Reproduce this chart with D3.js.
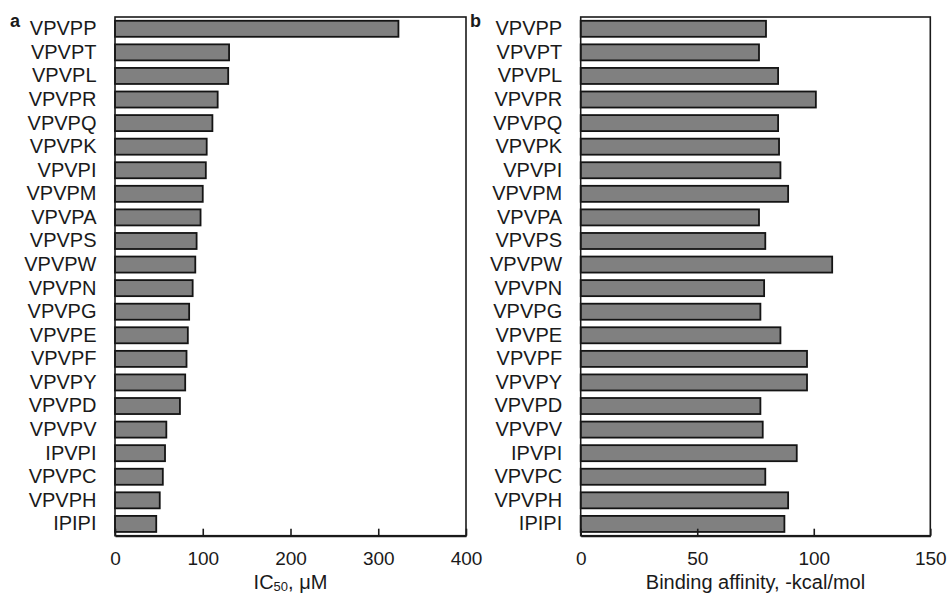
<!DOCTYPE html>
<html>
<head>
<meta charset="utf-8">
<script src="https://cdn.jsdelivr.net/npm/d3@7"></script>
<style>
  body { margin: 0; background: #fff; }
  svg { display: block; }
  text { font-family: "Liberation Sans", Arial, sans-serif; fill: #1a1a1a; }
</style>
</head>
<body>
<svg id="chart" width="947" height="594"></svg>
<script>
// ---- data ----
const peptidesA = ["VPVPP","VPVPT","VPVPL","VPVPR","VPVPQ","VPVPK","VPVPI","VPVPM","VPVPA","VPVPS","VPVPW","VPVPN","VPVPG","VPVPE","VPVPF","VPVPY","VPVPD","VPVPV","IPVPI","VPVPC","VPVPH","IPIPI"];
const ic50 = [323, 130, 129, 117, 111, 104.5, 103.5, 100, 97.5, 93, 91.5, 88.5, 84.5, 83, 81.5, 80, 74, 58.5, 57, 54.5, 51, 47];
const peptidesB = ["VPVPP","VPVPT","VPVPL","VPVPR","VPVPQ","VPVPK","VPVPI","VPVPM","VPVPA","VPVPS","VPVPW","VPVPN","VPVPG","VPVPE","VPVPF","VPVPY","VPVPD","VPVPV","IPVPI","VPVPC","VPVPH","IPIPI"];
const affinity = [79.5, 76.5, 84.7, 100.9, 84.7, 85.1, 85.7, 89, 76.5, 79.2, 107.9, 78.7, 77.1, 85.7, 97.1, 97.1, 77.1, 78.1, 92.7, 79.2, 89, 87.4];
const ticksA = [0, 100, 200, 300, 400];
const ticksB = [0, 50, 100, 150];

const svg = d3.select("#chart");
const plotTop = 17, plotBottom = 535.7;

function panel(cfg) {
  const g = svg.append("g");
  const x = d3.scaleLinear().domain(cfg.domain).range([cfg.left, cfg.right]);
  const y = d3.scaleBand().domain(cfg.cats).range([plotTop, plotBottom])
    .paddingInner(0.32).paddingOuter(0.16);

  // bars
  g.selectAll("rect.bar").data(cfg.values).join("rect")
    .attr("class", "bar")
    .attr("x", x(0))
    .attr("y", (d, i) => y(cfg.cats[i]))
    .attr("width", d => x(d) - x(0))
    .attr("height", y.bandwidth())
    .attr("fill", "#808080")
    .attr("stroke", "#141414")
    .attr("stroke-width", 1.8);

  // frame
  g.append("rect")
    .attr("x", cfg.left).attr("y", plotTop)
    .attr("width", cfg.right - cfg.left).attr("height", plotBottom - plotTop)
    .attr("fill", "none").attr("stroke", "#1a1a1a").attr("stroke-width", 1.6);

  // x axis
  const xa = g.append("g").attr("transform", `translate(0,${plotBottom})`)
    .call(d3.axisBottom(x).tickValues(cfg.ticks).tickSizeInner(-7).tickSizeOuter(0).tickPadding(15.5));
  xa.select(".domain").attr("stroke", "#1a1a1a").attr("stroke-width", 2);
  xa.selectAll(".tick line").attr("stroke", "#1a1a1a").attr("stroke-width", 1.6);
  xa.selectAll(".tick text").attr("font-size", 19)
    .attr("font-family", "Liberation Sans, Arial, sans-serif").attr("fill", "#1a1a1a");

  // y axis (category labels)
  const ya = g.append("g").attr("transform", `translate(${cfg.left},0)`)
    .call(d3.axisLeft(y).tickSize(0).tickPadding(18.5));
  ya.select(".domain").remove();
  ya.selectAll(".tick text").attr("font-size", 20)
    .attr("font-family", "Liberation Sans, Arial, sans-serif").attr("fill", "#1a1a1a");

  // axis title
  const t = g.append("text")
    .attr("x", (cfg.left + cfg.right) / 2).attr("y", 588.5)
    .attr("text-anchor", "middle").attr("font-size", 20);
  if (cfg.sub) {
    t.append("tspan").text(cfg.title[0]);
    t.append("tspan").text(cfg.sub).attr("font-size", 13).attr("dy", 2.5);
    t.append("tspan").text(cfg.title[1]).attr("dy", -2.5);
  } else {
    t.text(cfg.title);
  }

  // panel letter
  svg.append("text").attr("x", cfg.letterX).attr("y", 27)
    .attr("font-weight", "bold").attr("font-size", 18).text(cfg.letter);
}

panel({ cats: peptidesA, values: ic50, domain: [0, 400], ticks: ticksA,
        left: 115, right: 466, title: ["IC", ", μM"], sub: "50", letter: "a", letterX: 10 });
panel({ cats: peptidesB, values: affinity, domain: [0, 150], ticks: ticksB,
        left: 580.7, right: 930.3, title: "Binding affinity, -kcal/mol", letter: "b", letterX: 470 });
</script>
</body>
</html>
